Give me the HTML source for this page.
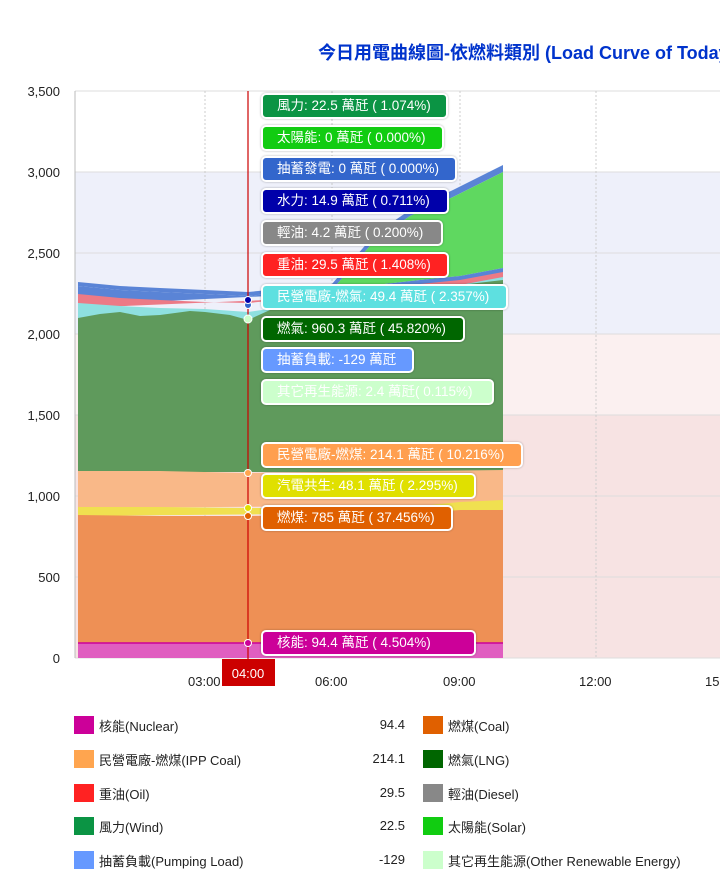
<!DOCTYPE html>
<html><head><meta charset="utf-8"><style>
body{margin:0;width:720px;height:895px;background:#fff;font-family:"Liberation Sans","Noto Sans CJK TC",sans-serif;overflow:hidden;position:relative}
.t{position:absolute;left:261px;height:22px;border:2px solid #fff;border-radius:5px;color:#fff;font-size:13.5px;line-height:22px;padding-left:14px;box-sizing:content-box;box-shadow:0 0 2px rgba(0,0,0,.3)}
.yl{position:absolute;right:660px;font-size:13px;color:#222}
.xl{position:absolute;top:674px;font-size:13px;color:#222}
.lg{position:absolute;font-size:13px;color:#222}
.sq{position:absolute;width:20px;height:18px}
.v{position:absolute;font-size:13px;color:#222;text-align:right;width:80px;left:325px}
</style></head><body>
<div style="position:absolute;left:318px;top:39px;font-size:18px;font-weight:bold;color:#0033cc;white-space:nowrap">今日用電曲線圖-依燃料類別 (Load Curve of Today)</div>
<svg width="720" height="895" style="position:absolute;left:0;top:0">
<rect x="75" y="172" width="645" height="162" fill="#eef0fa"/>
<rect x="75" y="334" width="645" height="81" fill="#fbf0f0"/>
<rect x="75" y="415" width="645" height="243" fill="#f7e3e3"/>
<g stroke="#ddd" stroke-width="1">
<line x1="75" y1="91" x2="720" y2="91"/><line x1="75" y1="172" x2="720" y2="172"/><line x1="75" y1="253" x2="720" y2="253"/><line x1="75" y1="334" x2="720" y2="334"/><line x1="75" y1="415" x2="720" y2="415"/><line x1="75" y1="496" x2="720" y2="496"/><line x1="75" y1="577" x2="720" y2="577"/><line x1="75" y1="658" x2="720" y2="658"/>
</g>
<g stroke="#ccc" stroke-dasharray="2,2"><line x1="205" y1="91" x2="205" y2="658"/><line x1="332" y1="91" x2="332" y2="658"/><line x1="460" y1="91" x2="460" y2="658"/><line x1="596" y1="91" x2="596" y2="658"/></g>
<line x1="75" y1="91" x2="75" y2="658" stroke="#bbb"/>
<polygon fill="#5a84d6" points="78,282 120,286 160,288 205,290 248,292 290,288 332,284 375,234 410,210 453,190 503,165 503,172 453,197 410,216 375,240 332,290 290,292 248,296 205,294 160,292 120,290 78,286"/>
<polygon fill="#5fd860" points="332,290 375,240 410,216 453,197 503,172 503,268 460,276 420,280 375,285"/>
<polygon fill="#5a84d6" points="78,286 120,290 160,292 205,294 248,296 290,292 332,290 375,285 420,280 460,276 503,268 503,285 78,305"/>
<polygon fill="#ec7a86" points="78,294 120,298 160,300 205,302 248,303 290,299 332,294 375,289 420,284 460,280 503,272 503,290 78,308"/>
<polygon fill="#8ee0e0" points="78,303 120,306 160,308 205,309 248,312 290,306 332,300 375,294 420,290 460,285 503,277 503,330 78,330"/>
<polygon fill="#5f9a5c" points="78,318 100,314 120,312 140,316 160,315 190,311 205,312 230,315 248,320 270,310 290,306 332,300 375,295 420,290 460,285 503,280 503,472 78,472"/>
<polygon fill="#f9b888" points="78,471 160,471 248,473 332,472 420,471 503,470 503,505 78,508"/>
<polygon fill="#f0e050" points="78,507 160,507 248,508 332,508 420,506 460,502 503,500 503,512 78,516"/>
<polygon fill="#ee9055" points="78,515 160,516 248,516 332,515 420,513 460,510 503,510 503,644 78,644"/>
<polygon fill="#e05ec0" points="78,643 503,643 503,658 78,658"/>
<line x1="78" y1="643" x2="503" y2="643" stroke="#cc0099" stroke-width="1.5"/>
<line x1="248" y1="91" x2="248" y2="660" stroke="#cc0000" stroke-width="1.2"/>
<g stroke="#fff" stroke-width="1"><circle cx="248" cy="643" r="3.5" fill="#cc0099"/><circle cx="248" cy="516" r="3.5" fill="#e06000"/><circle cx="248" cy="508" r="3.5" fill="#e0e000"/><circle cx="248" cy="473" r="3.5" fill="#ffa54f"/><circle cx="248" cy="319" r="4" fill="#ccffcc"/><circle cx="248" cy="305" r="3.5" fill="#3366cc"/><circle cx="248" cy="300" r="3.5" fill="#0000aa"/></g>
<rect x="222" y="659" width="53" height="27" fill="#cc0000"/>
<text x="248" y="678" fill="#fff" font-size="13" text-anchor="middle" font-family="Liberation Sans">04:00</text>
</svg>
<div class="yl" style="top:84px">3,500</div><div class="yl" style="top:165px">3,000</div><div class="yl" style="top:246px">2,500</div><div class="yl" style="top:327px">2,000</div><div class="yl" style="top:408px">1,500</div><div class="yl" style="top:489px">1,000</div><div class="yl" style="top:570px">500</div><div class="yl" style="top:651px">0</div>
<div class="xl" style="left:188px">03:00</div><div class="xl" style="left:315px">06:00</div><div class="xl" style="left:443px">09:00</div><div class="xl" style="left:579px">12:00</div><div class="xl" style="left:705px">15:00</div>
<div class="t" style="top:93px;width:169px;background:#0b9444">風力: 22.5 萬瓩 ( 1.074%)</div>
<div class="t" style="top:125px;width:165px;background:#11cc11">太陽能: 0 萬瓩 ( 0.000%)</div>
<div class="t" style="top:156px;width:178px;background:#3366cc">抽蓄發電: 0 萬瓩 ( 0.000%)</div>
<div class="t" style="top:188px;width:170px;background:#0000aa">水力: 14.9 萬瓩 ( 0.711%)</div>
<div class="t" style="top:220px;width:164px;background:#888">輕油: 4.2 萬瓩 ( 0.200%)</div>
<div class="t" style="top:252px;width:170px;background:#ff2222">重油: 29.5 萬瓩 ( 1.408%)</div>
<div class="t" style="top:284px;width:229px;background:#5ee0e0">民營電廠-燃氣: 49.4 萬瓩 ( 2.357%)</div>
<div class="t" style="top:316px;width:186px;background:#006600">燃氣: 960.3 萬瓩 ( 45.820%)</div>
<div class="t" style="top:347px;width:135px;background:#6699ff">抽蓄負載: -129 萬瓩</div>
<div class="t" style="top:379px;width:215px;background:#ccffcc">其它再生能源: 2.4 萬瓩( 0.115%)</div>
<div class="t" style="top:442px;width:244px;background:#ff9f4f">民營電廠-燃煤: 214.1 萬瓩 ( 10.216%)</div>
<div class="t" style="top:473px;width:197px;background:#e0e000">汽電共生: 48.1 萬瓩 ( 2.295%)</div>
<div class="t" style="top:505px;width:174px;background:#e06000">燃煤: 785 萬瓩 ( 37.456%)</div>
<div class="t" style="top:630px;width:197px;background:#cc0099">核能: 94.4 萬瓩 ( 4.504%)</div>
<div class="sq" style="left:74px;top:716px;background:#cc0099"></div><div class="lg" style="left:99px;top:716px">核能(Nuclear)</div><div class="v" style="top:717px">94.4</div>
<div class="sq" style="left:423px;top:716px;background:#e06000"></div><div class="lg" style="left:448px;top:716px">燃煤(Coal)</div>
<div class="sq" style="left:74px;top:750px;background:#ffa54f"></div><div class="lg" style="left:99px;top:750px">民營電廠-燃煤(IPP Coal)</div><div class="v" style="top:751px">214.1</div>
<div class="sq" style="left:423px;top:750px;background:#006600"></div><div class="lg" style="left:448px;top:750px">燃氣(LNG)</div>
<div class="sq" style="left:74px;top:784px;background:#ff2222"></div><div class="lg" style="left:99px;top:784px">重油(Oil)</div><div class="v" style="top:785px">29.5</div>
<div class="sq" style="left:423px;top:784px;background:#888"></div><div class="lg" style="left:448px;top:784px">輕油(Diesel)</div>
<div class="sq" style="left:74px;top:817px;background:#0b9444"></div><div class="lg" style="left:99px;top:817px">風力(Wind)</div><div class="v" style="top:818px">22.5</div>
<div class="sq" style="left:423px;top:817px;background:#11cc11"></div><div class="lg" style="left:448px;top:817px">太陽能(Solar)</div>
<div class="sq" style="left:74px;top:851px;background:#6699ff"></div><div class="lg" style="left:99px;top:851px">抽蓄負載(Pumping Load)</div><div class="v" style="top:852px">-129</div>
<div class="sq" style="left:423px;top:851px;background:#ccffcc"></div><div class="lg" style="left:448px;top:851px">其它再生能源(Other Renewable Energy)</div>
</body></html>
